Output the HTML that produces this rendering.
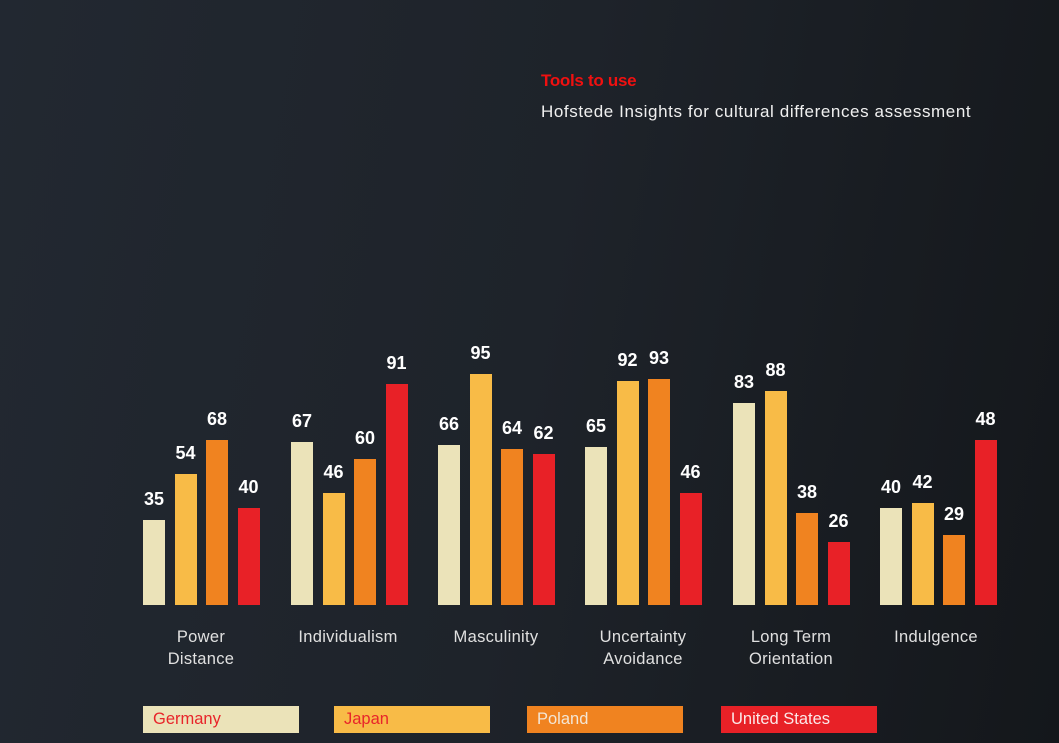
<!DOCTYPE html>
<html><head><meta charset="utf-8"><style>
html,body{margin:0;padding:0}
body{width:1059px;height:743px;overflow:hidden;position:relative;background:linear-gradient(100deg,#222831 0%,#1e232a 50%,#14171b 100%);font-family:"Liberation Sans",sans-serif}
.t1{position:absolute;left:541px;top:71px;color:#f01010;font-weight:bold;font-size:17px;letter-spacing:-0.3px}
.t2{position:absolute;left:541px;top:102px;color:#f0f0f0;font-size:17px;letter-spacing:0.6px}
.bar{position:absolute;width:22px}
.v{position:absolute;width:40px;text-align:center;color:#fff;font-weight:bold;font-size:18px}
.c{position:absolute;width:140px;text-align:center;color:#e0e0e0;font-size:16.5px;line-height:22px;top:626px;letter-spacing:0.3px}
.lg{position:absolute;top:706px;width:156px;height:27px;font-size:16.5px;line-height:27px;box-sizing:border-box;padding-left:10px}
</style></head><body>
<div class="t1">Tools to use</div>
<div class="t2">Hofstede Insights for cultural differences assessment</div>
<div id="ch"></div>
<div class="c" style="left:131px">Power<br>Distance</div>
<div class="c" style="left:278px">Individualism</div>
<div class="c" style="left:426px">Masculinity</div>
<div class="c" style="left:573px">Uncertainty<br>Avoidance</div>
<div class="c" style="left:721px">Long Term<br>Orientation</div>
<div class="c" style="left:866px">Indulgence</div>
<div class="lg" style="left:143px;background:#ebe3b9;color:#e8252a">Germany</div>
<div class="lg" style="left:334px;background:#f8bb47;color:#e8252a">Japan</div>
<div class="lg" style="left:527px;background:#f08320;color:#f3e6d6">Poland</div>
<div class="lg" style="left:721px;background:#e82127;color:#fbe9e9">United States</div>
<script>
(function(){
var d=[[35,54,68,40],[67,46,60,91],[66,95,64,62],[65,92,93,46],[83,88,38,26],[40,42,29,48]];
var col=["#ebe3b9","#f8bb47","#f08320","#e82127"];
var gx=[143,291,438,585,733,880],h="";
for(var g=0;g<6;g++)for(var i=0;i<4;i++){var v=d[g][i],x=gx[g]+i*31.5,hh=v*2.43;
if(g==5&&i==3)hh=165;
var ty=605-hh;
h+='<div class="bar" style="left:'+x+'px;top:'+ty+'px;height:'+hh+'px;background:'+col[i]+'"></div>';
h+='<div class="v" style="left:'+(x-9)+'px;top:'+(ty-31)+'px">'+v+'</div>';}
document.getElementById("ch").innerHTML=h;
})();
</script>
</body></html>
